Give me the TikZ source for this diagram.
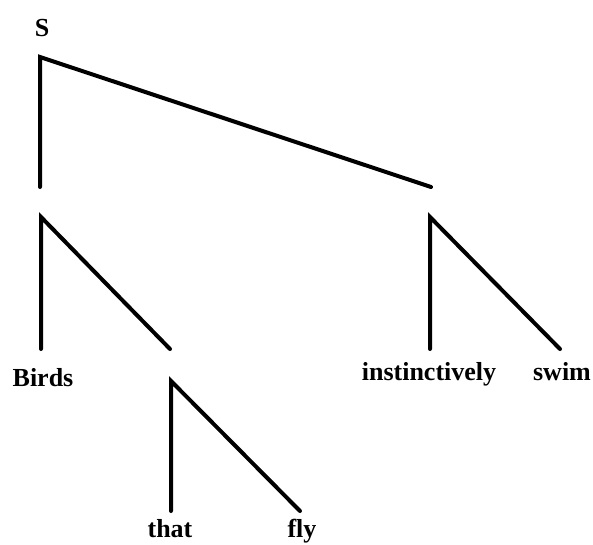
\documentclass[tikz,border=0pt]{standalone}
\usepackage{fontspec}
\setmainfont{Liberation Serif}
\begin{document}
\begin{tikzpicture}[x=1pt, y=-1pt,
    branch/.style={line width=4pt, line cap=round, line join=miter},
    word/.style={font=\fontsize{26}{28}\selectfont\bfseries, anchor=base, inner sep=0pt}]
    \useasboundingbox (0, 0) rectangle (593, 544);
    % root
    \node[word] (s) at (42, 36) {S};
    \coordinate (top) at (40, 57);
    \coordinate (np) at (40, 187);
    \coordinate (vp) at (431, 187);
    \draw[branch] (np) -- (top) -- (vp);
    % subject
    \coordinate (npTop) at (41, 217);
    \coordinate (npLeft) at (41, 349);
    \coordinate (rel) at (170, 349);
    \draw[branch] (npLeft) -- (npTop) -- (rel);
    \node[word] (birds) at (43, 386) {Birds};
    % relative clause
    \coordinate (relTop) at (171, 381);
    \coordinate (relLeft) at (171, 511);
    \coordinate (relRight) at (300, 511);
    \draw[branch] (relLeft) -- (relTop) -- (relRight);
    \node[word] (that) at (170, 537) {that};
    \node[word] (fly) at (302, 537) {fly};
    % predicate
    \coordinate (vpTop) at (430, 217);
    \coordinate (vpLeft) at (430, 349);
    \coordinate (vpRight) at (560, 349);
    \draw[branch] (vpLeft) -- (vpTop) -- (vpRight);
    \node[word] (adv) at (429, 380) {instinctively};
    \node[word] (swim) at (562, 380) {swim};
\end{tikzpicture}
\end{document}
